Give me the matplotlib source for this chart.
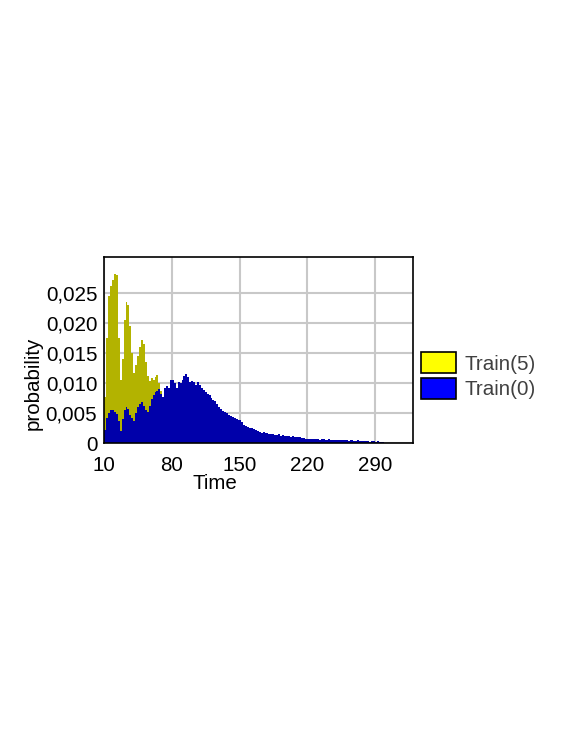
import numpy as np
import matplotlib
matplotlib.use("Agg")
import matplotlib.pyplot as plt
from matplotlib.patches import Patch

plt.rcParams['font.family'] = ['Liberation Sans', 'DejaVu Sans']

# histogram bins (Time), width 2
bin_width = 2
blue_start = 10
yellow_start = 10

# Train(5) probabilities per bin, from t=10
train5 = [0.0078, 0.0175, 0.0245, 0.0262, 0.0272, 0.0283, 0.0281, 0.0175,
          0.0106, 0.0140, 0.0205, 0.0235, 0.0230, 0.0195, 0.0150, 0.0117,
          0.0130, 0.0145, 0.0160, 0.0173, 0.0165, 0.0135, 0.0112, 0.0104,
          0.0109, 0.0106, 0.0111, 0.0114, 0.0100, 0.0088, 0.0078]

# Train(0) probabilities per bin, from t=10
train0 = [0.0022, 0.0042, 0.0050, 0.0055, 0.0056, 0.0053, 0.0049, 0.0038,
          0.0021, 0.0040, 0.0056, 0.0060, 0.0057, 0.0048, 0.0043, 0.0038,
          0.0050, 0.0060, 0.0066, 0.0069, 0.0063, 0.0056, 0.0053, 0.0062,
          0.0074, 0.0080, 0.0086, 0.0088, 0.0090, 0.0082, 0.0077, 0.0092,
          0.0095, 0.0093, 0.0106, 0.0105, 0.0100, 0.0093, 0.0103, 0.0101,
          0.0106, 0.0113, 0.0116, 0.0110, 0.0103, 0.0104, 0.0102, 0.0097,
          0.0103, 0.0098, 0.0092, 0.0089, 0.0086, 0.0083, 0.0080, 0.0076,
          0.0073, 0.0071, 0.0066, 0.0060, 0.0058, 0.0054, 0.0052, 0.0050,
          0.0048, 0.0046, 0.0044, 0.0043, 0.0041, 0.0039, 0.0039, 0.0036,
          0.0031, 0.0029, 0.0028, 0.0026, 0.0025, 0.0024, 0.0022, 0.0021,
          0.0019, 0.0018, 0.0019, 0.0017, 0.0017, 0.0016, 0.0015, 0.0016,
          0.0014, 0.0014, 0.0015, 0.0013, 0.0014, 0.0012, 0.0013, 0.0012,
          0.0011, 0.0012, 0.0011, 0.0010, 0.0010, 0.0011, 0.0009, 0.0009,
          0.0008, 0.0008, 0.0007, 0.0008, 0.0007, 0.0007, 0.0007, 0.0006,
          0.0007, 0.0007, 0.0006, 0.0006, 0.0007, 0.0006, 0.0005, 0.0006,
          0.0005, 0.0005, 0.0006, 0.0005, 0.0005, 0.0005, 0.0004, 0.0005,
          0.0005, 0.0004, 0.0004, 0.0005, 0.0004, 0.0004, 0.0004, 0.0004,
          0.0004, 0.0003, 0.0004, 0.0004, 0.0003, 0.0004, 0.0003, 0.0003,
          0.0003]

x_ticks = [10, 80, 150, 220, 290]
y_ticks = [0, 0.005, 0.010, 0.015, 0.020, 0.025]
y_ticklabels = ["0", "0,005", "0,010", "0,015", "0,020", "0,025"]
series_names = ["Train(5)", "Train(0)"]

fs = 14.8

fig = plt.figure(figsize=(5.81, 7.52), dpi=100)
ax = fig.add_axes([0.1795, 0.4105, 0.532, 0.2481])


def step_fill(values, start, color, z):
    edges = start + bin_width * np.arange(len(values) + 1)
    tops = np.append(values, values[-1])
    ax.fill_between(edges, 0, tops, step='post', color=color, linewidth=0,
                    zorder=z)


step_fill(train5, yellow_start, '#b3b300', 2)
step_fill(train0, blue_start, '#0000aa', 3)

ax.set_xlim(10, 330)
ax.set_ylim(0, 0.0311)
ax.set_xticks(x_ticks)
ax.set_xticklabels([str(v) for v in x_ticks], fontsize=fs)
ax.set_yticks(y_ticks)
ax.set_yticklabels(y_ticklabels, fontsize=fs)
ax.tick_params(axis='both', length=0)
ax.tick_params(axis='x', pad=9)
ax.tick_params(axis='y', pad=5)
ax.grid(True, color='#c8c8c8', linewidth=1.5, zorder=1)
ax.set_axisbelow(True)
for s in ax.spines.values():
    s.set_linewidth(1.2)
    s.set_color('black')
    s.set_zorder(5)

fig.text(33 / 581, 1 - 383 / 752, "probability", rotation=90, fontsize=fs,
         ha='center', va='center')
fig.text(215 / 581, 1 - 484 / 752, "Time", fontsize=fs, ha='center', va='center')

handles = [Patch(facecolor='#ffff00', edgecolor='black', linewidth=1.2),
           Patch(facecolor='#0000ff', edgecolor='black', linewidth=1.2)]
leg = fig.legend(handles, series_names, loc='upper left',
                 bbox_to_anchor=(421 / 581, 1 - 352 / 752), frameon=False,
                 fontsize=fs, handlelength=1.7, handleheight=1.22,
                 handletextpad=0.4, labelspacing=0.2, borderpad=0,
                 borderaxespad=0)
for t in leg.get_texts():
    t.set_color('#404040')

fig.savefig("out.png", dpi=100)
